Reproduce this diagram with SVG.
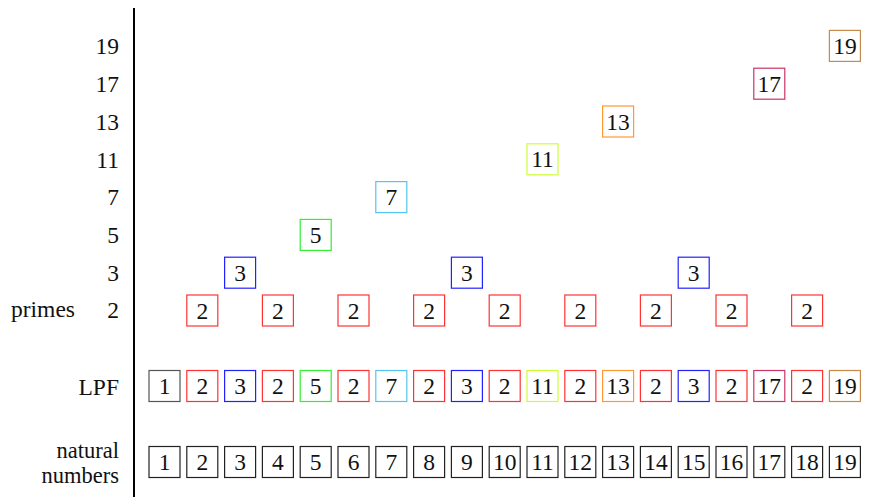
<svg xmlns="http://www.w3.org/2000/svg" width="878" height="497" viewBox="0 0 878 497">
<style>
text{font-size:23.5px;fill:#111;stroke:none}
.n text{text-anchor:middle}
.lbl{text-anchor:end}
.sm{font-size:22.5px}
.n{fill:#fff;stroke-width:1.2}
.k{stroke:#222}
.g1{stroke:#555}
.c2{stroke:#ff3333}
.c3{stroke:#2222ff}
.c5{stroke:#33ee33}
.c7{stroke:#55c4ee}
.c11{stroke:#ccff33}
.c13{stroke:#ff9933}
.c17{stroke:#cc3366}
.c19{stroke:#c88a4a}
</style>
<defs>
<rect id="b" x="-15.5" y="-15.5" width="31" height="31"/>
</defs>
<g id="axis"><line x1="134" y1="8" x2="134" y2="497" stroke="#000" stroke-width="2"/></g>
<g font-family="Liberation Serif, serif">
<g id="labels">
<text class="lbl" x="119" y="54">19</text>
<text class="lbl" x="119" y="92">17</text>
<text class="lbl" x="119" y="129.5">13</text>
<text class="lbl" x="119" y="167.5">11</text>
<text class="lbl" x="119" y="205">7</text>
<text class="lbl" x="119" y="243">5</text>
<text class="lbl" x="119" y="281">3</text>
<text class="lbl" x="119" y="318">2</text>
<text x="11" y="317">primes</text>
<text class="lbl" x="119" y="394.5">LPF</text>
<text class="lbl sm" x="119" y="458">natural</text>
<text class="lbl sm" x="119" y="482.5">numbers</text>
</g>
<g id="connectors"></g>
<g id="p2-2" class="n c2" transform="translate(202.3,310.5)"><use href="#b"/><text y="8">2</text></g>
<g id="p2-4" class="n c2" transform="translate(277.9,310.5)"><use href="#b"/><text y="8">2</text></g>
<g id="p2-6" class="n c2" transform="translate(353.5,310.5)"><use href="#b"/><text y="8">2</text></g>
<g id="p2-8" class="n c2" transform="translate(429.1,310.5)"><use href="#b"/><text y="8">2</text></g>
<g id="p2-10" class="n c2" transform="translate(504.7,310.5)"><use href="#b"/><text y="8">2</text></g>
<g id="p2-12" class="n c2" transform="translate(580.3,310.5)"><use href="#b"/><text y="8">2</text></g>
<g id="p2-14" class="n c2" transform="translate(655.9,310.5)"><use href="#b"/><text y="8">2</text></g>
<g id="p2-16" class="n c2" transform="translate(731.5,310.5)"><use href="#b"/><text y="8">2</text></g>
<g id="p2-18" class="n c2" transform="translate(807.1,310.5)"><use href="#b"/><text y="8">2</text></g>
<g id="p3-3" class="n c3" transform="translate(240.1,272.7)"><use href="#b"/><text y="8">3</text></g>
<g id="p3-9" class="n c3" transform="translate(466.9,272.7)"><use href="#b"/><text y="8">3</text></g>
<g id="p3-15" class="n c3" transform="translate(693.7,272.7)"><use href="#b"/><text y="8">3</text></g>
<g id="p5" class="n c5" transform="translate(315.7,234.9)"><use href="#b"/><text y="8">5</text></g>
<g id="p7" class="n c7" transform="translate(391.3,197.1)"><use href="#b"/><text y="8">7</text></g>
<g id="p11" class="n c11" transform="translate(542.5,159.3)"><use href="#b"/><text y="8">11</text></g>
<g id="p13" class="n c13" transform="translate(618.1,121.5)"><use href="#b"/><text y="8">13</text></g>
<g id="p17" class="n c17" transform="translate(769.3,83.7)"><use href="#b"/><text y="8">17</text></g>
<g id="p19" class="n c19" transform="translate(844.9,45.9)"><use href="#b"/><text y="8">19</text></g>
<g id="l1" class="n g1" transform="translate(164.5,386)"><use href="#b"/><text y="8">1</text></g>
<g id="l2" class="n c2" transform="translate(202.3,386)"><use href="#b"/><text y="8">2</text></g>
<g id="l3" class="n c3" transform="translate(240.1,386)"><use href="#b"/><text y="8">3</text></g>
<g id="l4" class="n c2" transform="translate(277.9,386)"><use href="#b"/><text y="8">2</text></g>
<g id="l5" class="n c5" transform="translate(315.7,386)"><use href="#b"/><text y="8">5</text></g>
<g id="l6" class="n c2" transform="translate(353.5,386)"><use href="#b"/><text y="8">2</text></g>
<g id="l7" class="n c7" transform="translate(391.3,386)"><use href="#b"/><text y="8">7</text></g>
<g id="l8" class="n c2" transform="translate(429.1,386)"><use href="#b"/><text y="8">2</text></g>
<g id="l9" class="n c3" transform="translate(466.9,386)"><use href="#b"/><text y="8">3</text></g>
<g id="l10" class="n c2" transform="translate(504.7,386)"><use href="#b"/><text y="8">2</text></g>
<g id="l11" class="n c11" transform="translate(542.5,386)"><use href="#b"/><text y="8">11</text></g>
<g id="l12" class="n c2" transform="translate(580.3,386)"><use href="#b"/><text y="8">2</text></g>
<g id="l13" class="n c13" transform="translate(618.1,386)"><use href="#b"/><text y="8">13</text></g>
<g id="l14" class="n c2" transform="translate(655.9,386)"><use href="#b"/><text y="8">2</text></g>
<g id="l15" class="n c3" transform="translate(693.7,386)"><use href="#b"/><text y="8">3</text></g>
<g id="l16" class="n c2" transform="translate(731.5,386)"><use href="#b"/><text y="8">2</text></g>
<g id="l17" class="n c17" transform="translate(769.3,386)"><use href="#b"/><text y="8">17</text></g>
<g id="l18" class="n c2" transform="translate(807.1,386)"><use href="#b"/><text y="8">2</text></g>
<g id="l19" class="n c19" transform="translate(844.9,386)"><use href="#b"/><text y="8">19</text></g>
<g id="n1" class="n k" transform="translate(164.5,462)"><use href="#b"/><text y="8">1</text></g>
<g id="n2" class="n k" transform="translate(202.3,462)"><use href="#b"/><text y="8">2</text></g>
<g id="n3" class="n k" transform="translate(240.1,462)"><use href="#b"/><text y="8">3</text></g>
<g id="n4" class="n k" transform="translate(277.9,462)"><use href="#b"/><text y="8">4</text></g>
<g id="n5" class="n k" transform="translate(315.7,462)"><use href="#b"/><text y="8">5</text></g>
<g id="n6" class="n k" transform="translate(353.5,462)"><use href="#b"/><text y="8">6</text></g>
<g id="n7" class="n k" transform="translate(391.3,462)"><use href="#b"/><text y="8">7</text></g>
<g id="n8" class="n k" transform="translate(429.1,462)"><use href="#b"/><text y="8">8</text></g>
<g id="n9" class="n k" transform="translate(466.9,462)"><use href="#b"/><text y="8">9</text></g>
<g id="n10" class="n k" transform="translate(504.7,462)"><use href="#b"/><text y="8">10</text></g>
<g id="n11" class="n k" transform="translate(542.5,462)"><use href="#b"/><text y="8">11</text></g>
<g id="n12" class="n k" transform="translate(580.3,462)"><use href="#b"/><text y="8">12</text></g>
<g id="n13" class="n k" transform="translate(618.1,462)"><use href="#b"/><text y="8">13</text></g>
<g id="n14" class="n k" transform="translate(655.9,462)"><use href="#b"/><text y="8">14</text></g>
<g id="n15" class="n k" transform="translate(693.7,462)"><use href="#b"/><text y="8">15</text></g>
<g id="n16" class="n k" transform="translate(731.5,462)"><use href="#b"/><text y="8">16</text></g>
<g id="n17" class="n k" transform="translate(769.3,462)"><use href="#b"/><text y="8">17</text></g>
<g id="n18" class="n k" transform="translate(807.1,462)"><use href="#b"/><text y="8">18</text></g>
<g id="n19" class="n k" transform="translate(844.9,462)"><use href="#b"/><text y="8">19</text></g>
</g>
</svg>
